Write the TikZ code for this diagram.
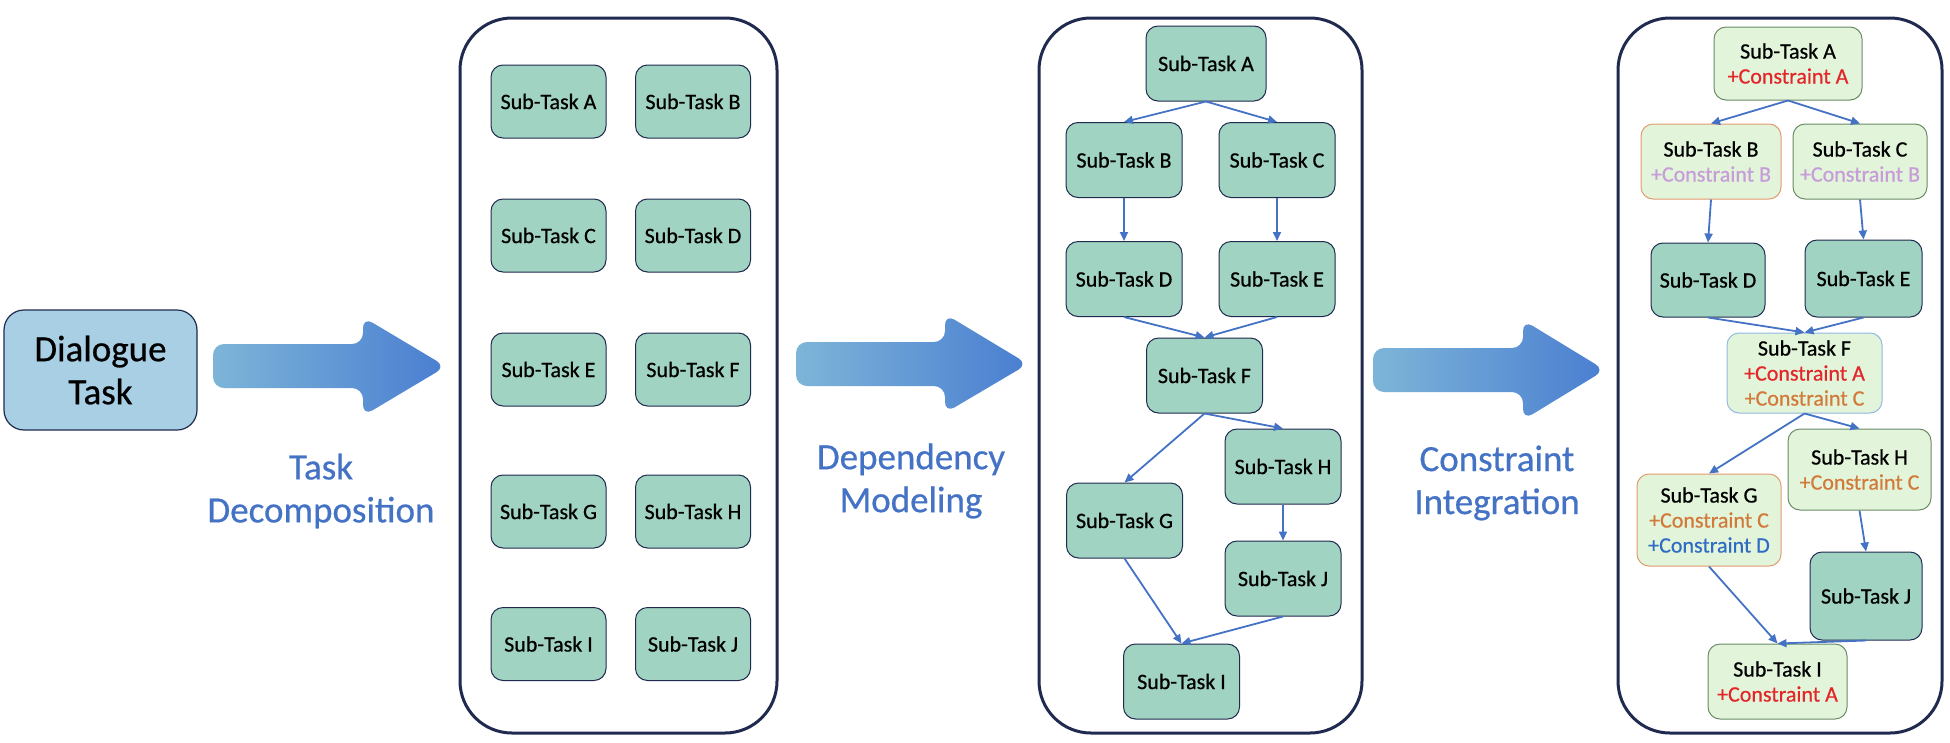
\documentclass[tikz,border=0pt]{standalone}
\usepackage{fontspec}
\setmainfont{Carlito}[FakeBold=0.6]
\usetikzlibrary{arrows.meta}
\definecolor{navy}{HTML}{1F2A4E}
\definecolor{mint}{HTML}{A0D3C1}
\definecolor{dlgblue}{HTML}{A9CFE5}
\definecolor{lgreen}{HTML}{E2F4D9}
\definecolor{connblue}{HTML}{4472C4}
\definecolor{cred}{HTML}{E3262A}
\definecolor{cpurple}{HTML}{C79DD9}
\definecolor{corange}{HTML}{D27A3A}
\definecolor{cblue}{HTML}{2F6DC5}
\definecolor{arrL}{HTML}{7DB5D8}
\definecolor{arrR}{HTML}{4A7ED1}
\definecolor{bgreen}{HTML}{6A8A66}
\definecolor{borange}{HTML}{E39A6E}
\definecolor{blight}{HTML}{93B8E2}
\begin{document}
\begin{tikzpicture}[x=1pt,y=-1pt,
  panel/.style={draw=navy, line width=3pt, rounded corners=52pt},
  sub/.style={draw=navy, line width=1pt, fill=mint, rounded corners=12pt,
    inner sep=0pt, align=center, font=\fontsize{22}{25}\selectfont},
  csub/.style={sub, fill=lgreen, draw=bgreen},
  link/.style={draw=connblue, line width=1.8pt, -{Triangle[length=9pt,width=8pt]}},
  lbl/.style={text=connblue, align=center, font=\fontsize{37}{43}\selectfont},
  bigarrow/.style={left color=arrL, right color=arrR, rounded corners=11pt}]
\useasboundingbox (0,0) rectangle (1950,742);

% Dialogue task
\node[draw=navy, line width=1.2pt, fill=dlgblue, rounded corners=20pt,
  minimum width=193pt, minimum height=120pt, inner sep=0pt, align=center,
  font=\fontsize{37}{43}\selectfont] (dlg) at (100.5,370) {Dialogue\\Task};

% big arrows
\shade[bigarrow] (213,344) -- (363,344) -- (363,317) -- (446,366.5) -- (363,416) -- (363,388) -- (213,388) -- cycle;
\shade[bigarrow] (796,342) -- (945,342) -- (945,314) -- (1028,364) -- (945,413) -- (945,386) -- (796,386) -- cycle;
\shade[bigarrow] (1373,348) -- (1523,348) -- (1523,320) -- (1605,370) -- (1523,420) -- (1523,392) -- (1373,392) -- cycle;

% labels
\node[lbl] (l1) at (321,491) {Task\\Decomposition};
\node[lbl] (l2) at (911,481) {Dependency\\Modeling};
\node[lbl] (l3) at (1497,483) {Constraint\\Integration};

% panels
\draw[panel] (460,18) rectangle (777,733);
\draw[panel] (1039,18) rectangle (1362,733);
\draw[panel] (1618,18) rectangle (1942,733);

% panel 2
\begin{scope}[every node/.style={sub, minimum width=115pt, minimum height=73pt}]
\node (pA) at (548.5,101.5) {Sub-Task A};
\node (pB) at (693,101.5) {Sub-Task B};
\node (pC) at (548.5,235.5) {Sub-Task C};
\node (pD) at (693,235.5) {Sub-Task D};
\node (pE) at (548.5,369.5) {Sub-Task E};
\node (pF) at (693,369.5) {Sub-Task F};
\node (pG) at (548.5,511.5) {Sub-Task G};
\node (pH) at (693,511.5) {Sub-Task H};
\node (pI) at (548.5,644) {Sub-Task I};
\node (pJ) at (693,644) {Sub-Task J};
\end{scope}

% panel 3
\begin{scope}[every node/.style={sub, minimum width=116pt, minimum height=75pt}]
\node[minimum width=120pt] (qA) at (1206,63.5) {Sub-Task A};
\node (qB) at (1124,160) {Sub-Task B};
\node (qC) at (1277,160) {Sub-Task C};
\node (qD) at (1124,279) {Sub-Task D};
\node (qE) at (1277,279) {Sub-Task E};
\node (qF) at (1204.5,375.5) {Sub-Task F};
\node (qG) at (1124.5,520.5) {Sub-Task G};
\node (qH) at (1283,466.5) {Sub-Task H};
\node (qJ) at (1283,578.5) {Sub-Task J};
\node (qI) at (1181.5,681.5) {Sub-Task I};
\end{scope}
\draw[link] (qA.south) -- (qB.north);
\draw[link] (qA.south) -- (qC.north);
\draw[link] (qB.south) -- (qD.north);
\draw[link] (qC.south) -- (qE.north);
\draw[link] (qD.south) -- (qF.north);
\draw[link] (qE.south) -- (qF.north);
\draw[link] (qF.south) -- (qG.north);
\draw[link] (qF.south) -- (qH.north);
\draw[link] (qH.south) -- (qJ.north);
\draw[link] (qG.south) -- (qI.north);
\draw[link] (qJ.south) -- (qI.north);

% panel 4
\node[csub, minimum width=148pt, minimum height=73pt] (rA) at (1788,63.5)
  {Sub-Task A\\\textcolor{cred}{+Constraint A}};
\node[csub, draw=borange, minimum width=140pt, minimum height=75pt] (rB) at (1711,161.5)
  {Sub-Task B\\\textcolor{cpurple}{+Constraint B}};
\node[csub, minimum width=134pt, minimum height=75pt] (rC) at (1860,161.5)
  {Sub-Task C\\\textcolor{cpurple}{+Constraint B}};
\node[sub, minimum width=114pt, minimum height=74pt] (rD) at (1708,280) {Sub-Task D};
\node[sub, minimum width=117pt, minimum height=77pt] (rE) at (1863.5,278.5) {Sub-Task E};
\node[csub, draw=blight, minimum width=155pt, minimum height=80pt] (rF) at (1804.5,373)
  {Sub-Task F\\\textcolor{cred}{+Constraint A}\\\textcolor{corange}{+Constraint C}};
\node[csub, draw=borange, minimum width=144pt, minimum height=92pt] (rG) at (1709,520)
  {Sub-Task G\\\textcolor{corange}{+Constraint C}\\\textcolor{cblue}{+Constraint D}};
\node[csub, minimum width=143pt, minimum height=81pt] (rH) at (1859.5,469.5)
  {Sub-Task H\\\textcolor{corange}{+Constraint C}};
\node[sub, minimum width=112pt, minimum height=88pt] (rJ) at (1866,596) {Sub-Task J};
\node[csub, minimum width=139pt, minimum height=75pt] (rI) at (1777.5,681.5)
  {Sub-Task I\\\textcolor{cred}{+Constraint A}};
\draw[link] (rA.south) -- (rB.north);
\draw[link] (rA.south) -- (rC.north);
\draw[link] (rB.south) -- (rD.north);
\draw[link] (rC.south) -- (rE.north);
\draw[link] (rD.south) -- (rF.north);
\draw[link] (rE.south) -- (rF.north);
\draw[link] (rF.south) -- (rG.north);
\draw[link] (rF.south) -- (rH.north);
\draw[link] (rH.south) -- (rJ.north);
\draw[link] (rG.south) -- (rI.north);
\draw[link] (rJ.south) -- (rI.north);
\end{tikzpicture}
\end{document}
